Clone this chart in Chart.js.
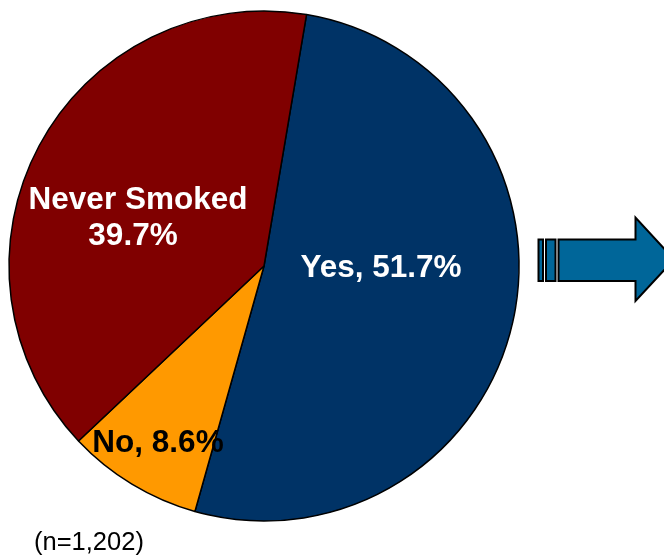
<!DOCTYPE html>
<html>
<head>
<meta charset="utf-8">
<script src="https://cdn.jsdelivr.net/npm/chart.js@4"></script>
<style>
  html, body { margin:0; padding:0; background:#fff; }
  #wrap { width:664px; height:556px; position:relative; }
</style>
</head>
<body>
<div id="wrap"><canvas id="chart" width="664" height="556"></canvas></div>
<script>
const categories = ['Yes', 'No', 'Never Smoked'];
const shares = [51.7, 8.6, 39.7];
const colors = ['#003366', '#FF9900', '#800000'];
const sampleNote = '(n=1,202)';

// label placement (centre x, baseline y, text colour) for each slice
const labelSpots = [
  { x: 381, y: 277, color: '#fff', lines: [categories[0] + ', ' + shares[0] + '%'] },
  { x: 158, y: 452, color: '#000', lines: [categories[1] + ', ' + shares[1] + '%'] },
  { x: 138, y: 209, color: '#fff', lines: [categories[2], shares[2] + '%'], dx: [0, -5], gap: 36 }
];

const decor = {
  id: 'decor',
  afterDraw(chart) {
    const ctx = chart.ctx;
    ctx.save();
    ctx.textBaseline = 'alphabetic';
    ctx.textAlign = 'center';
    ctx.font = 'bold 31.5px "Liberation Sans", Arial, sans-serif';
    labelSpots.forEach(s => {
      ctx.fillStyle = s.color;
      s.lines.forEach((l, i) => ctx.fillText(l, s.x + (s.dx ? s.dx[i] : 0), s.y + i * (s.gap || 0)));
    });
    ctx.font = '25.5px "Liberation Sans", Arial, sans-serif';
    ctx.fillStyle = '#000';
    ctx.textAlign = 'left';
    ctx.fillText(sampleNote, 34, 550);

    // the block arrow pointing right
    ctx.fillStyle = '#006699';
    ctx.strokeStyle = '#000';
    ctx.lineWidth = 2;
    ctx.beginPath(); ctx.rect(538.5, 239.5, 4.5, 41.5); ctx.fill(); ctx.stroke();
    ctx.beginPath(); ctx.rect(546, 239.5, 9.5, 41.5); ctx.fill(); ctx.stroke();
    ctx.beginPath();
    ctx.moveTo(558.5, 239.5);
    ctx.lineTo(635.5, 239.5);
    ctx.lineTo(635.5, 217.5);
    ctx.lineTo(674, 259.5);
    ctx.lineTo(635.5, 301);
    ctx.lineTo(635.5, 281);
    ctx.lineTo(558.5, 281);
    ctx.closePath();
    ctx.fill(); ctx.stroke();
    ctx.restore();
  }
};

new Chart(document.getElementById('chart').getContext('2d'), {
  type: 'pie',
  data: {
    labels: categories,
    datasets: [{ data: shares, backgroundColor: colors, borderColor: '#000', borderWidth: 1.5 }]
  },
  options: {
    responsive: false,
    animation: false,
    rotation: 9.6,
    radius: 255,
    layout: { padding: { left: 0, top: 0, right: 136, bottom: 24 } },
    plugins: { legend: { display: false }, tooltip: { enabled: false } }
  },
  plugins: [decor]
});
</script>
</body>
</html>
